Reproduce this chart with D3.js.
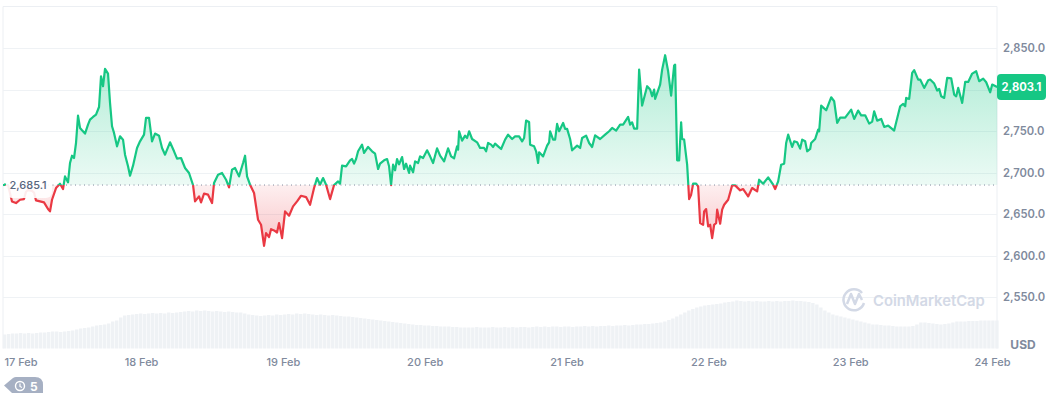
<!DOCTYPE html>
<html><head>
<meta charset="utf-8">
<title>Price chart</title>
<script src="https://d3js.org/d3.v7.min.js"></script>
<style>
  html, body { margin: 0; padding: 0; background: #fff; overflow: hidden; }
  svg { display: block; font-family: Inter, "Noto Sans", sans-serif; }
</style>
</head>
<body>
<div id="chart"></div>
<script>

// feed sample number of each price reading (about 142 samples a day)
var priceSample = [
  4,8,12,16,20,24,26,28,32,34,36,40,44,48,50,52,56,60,63,65,68,70,72,74,76,78,80,82,85,88,90,93,96,99,101,103,105,108,110,112,114,117,
  120,123,125,128,130,133,137,140,144,146,149,152,155,159,162,165,170,174,177,181,185,189,193,195,199,201,204,208,212,214,218,222,226,229,232,235,239,243,245,247,
  250,254,258,261,264,266,269,271,274,277,279,282,285,289,293,297,301,306,310,314,317,320,323,326,330,334,338,340,342,346,
  350,352,354,356,358,362,364,368,372,375,378,380,384,387,389,391,393,395,397,399,402,404,406,409,410,413,415,418,420,423,427,430,433,437,440,444,448,451,454,457,458,459,462,465,467,469,472,477,480,484,486,488,491,493,495,498,501,505,508,512,515,519,522,524,526,529,530,534,536,538,539,543,547,549,550,553,555,557,559,563,565,567,570,572,577,580,582,586,589,592,595,600,605,609,612,616,620,623,628,630,632,634,637,639,642,647,650,652,654,655,660,662,665,668,671,674,675,677,679,681,682,684,687,689,691,693,696,698,
  700,703,704,706,708,710,712,714,716,717,720,722,724,728,732,735,740,743,748,752,757,759,763,768,773,775,778,781,784,786,788,792,794,797,800,802,805,807,810,811,815,818,819,821,826,831,834,837,840,845,851,854,858,861,865,869,872,874,877,881,884,888,894,900,903,905,906,909,912,914,918,920,924,928,930,934,937,939,941,944,947,951,954,956,958,962,965,968,972,976,979,983,986,990,992,997
];

var price = [
  2686,2685,2665.4,2663.4,2667.4,2668.2,2677,2679,2678,2676,2666.6,2665.4,2664.2,2656.2,2653.4,2667.4,2681.5,2686.7,2680.3,2695.5,2688.3,2711.6,2720.4,2717.6,2735.7,2768.6,2753.8,2751,2747,2757.8,2763.8,2767,2769.8,2779,2816,2804,2824.9,2819.2,2783.9,2755.8,2747.8,2731.7,
  2743.7,2739.7,2721.6,2707.6,2696.3,2708.4,2729.7,2737.7,2745.7,2765.8,2765.8,2737.7,2747,2744.5,2729.7,2721.6,2736.5,2725.7,2716.8,2717.6,2705.6,2699.6,2685.1,2665.4,2671.4,2664.2,2674.7,2673.5,2663.4,2687.5,2697.5,2699.6,2691.5,2682.3,2703.6,2705.6,2695.5,2711.6,2720.4,2695.5,
  2685.5,2675.5,2643.3,2637.3,2612,2627.3,2622.5,2632,2630.5,2628,2639.3,2621.2,2653.4,2648.2,2659.4,2665.4,2672.2,2670.6,2661.4,2681.5,2693.5,2685.5,2693.5,2685.5,2668.2,2685.1,2689.5,2686.7,2708.4,2707.6,
  2714.8,2716.4,2710.8,2716.4,2725.7,2733.7,2723.7,2730.9,2725.7,2722.9,2704.4,2710.8,2714.8,2716.4,2707.6,2685.1,2709.6,2702.8,2716.4,2710,2718.8,2704.4,2710.8,2699.6,2708.4,2700.4,2713.6,2711.6,2719.6,2717.6,2726.9,2719.6,2711.6,2729.3,2720.4,2713.6,2729.3,2719.6,2717.2,2731.7,2727.7,2749.8,2738.5,2744.5,2741.7,2749.8,2740.5,2736.5,2729.7,2729.7,2725.7,2735.7,2733.7,2730.9,2734.9,2731.7,2728.5,2739.7,2745.7,2740.5,2743.7,2743.7,2737.7,2741.7,2762.6,2761,2733.7,2731.7,2725.7,2711.6,2724.5,2719.6,2732.5,2736.5,2749.8,2739.7,2739.7,2758.6,2749.8,2759.8,2752.6,2752.6,2740.5,2726.9,2732.5,2729.7,2741.7,2744.5,2735.7,2730.9,2744.9,2740.5,2745.7,2749.8,2753.8,2750.6,2757.8,2757.8,2767,2757.8,2760.6,2753,2753,2824,2780.7,2804,2800,2791.9,2800,2788.7,2806,2824,2841.3,2822,2792.7,2828.9,2830,2714.8,2714.8,2760.6,2740.5,2739.7,2709.6,2668.2,2673.5,2686.7,2686.7,2683.5,
  2639.3,2637.3,2653.4,2656.2,2635.3,2637.3,2621.2,2637.3,2639.3,2655.4,2638.5,2655.4,2661.4,2667.4,2684.7,2684.7,2678.7,2680.3,2671.4,2681.5,2677.5,2691.5,2686.7,2694.3,2685.5,2680.3,2689.5,2709.6,2710.8,2735.7,2745.7,2730.9,2737.7,2736.5,2728.9,2739.7,2737.7,2725.7,2728.5,2735.7,2740.5,2751.8,2749.8,2780.7,2775,2790.7,2785.9,2759.8,2766.2,2766.2,2775.9,2764.6,2774.7,2769,2769,2759,2761.4,2773.9,2762.6,2764.6,2755,2756.6,2750.6,2779.9,2782.7,2779.9,2789.9,2788.7,2820,2823.3,2812,2812,2802,2811.2,2812,2807.2,2798.8,2800.8,2791.9,2789.9,2814,2813.6,2793.9,2791.9,2802,2783.9,2809.2,2809.2,2819.2,2822,2810,2813.2,2808.8,2796.7,2806,2803.1
];

// volume, one bar every 4 samples from sample 3
var volume = [
  14,14.5,15,15,15.5,15,15.5,15,15.5,16,
  16,16.5,17,17,16.5,17,17.5,18,19,20,
  20.5,21,22,23,23.5,24,25,27,28,31,
  33,33.5,34,34.5,35,34.5,35,35.5,35,35.5,
  35,36,35.5,36,36.5,37,37.5,37,38,37.5,
  38,37.5,37,37.5,37,36.5,37,36.5,36,36,
  35,34,33.5,33,32.5,33,33.5,33,34,33.5,
  34,34.5,34,35,34.5,35,34.5,34,33.5,34,
  33.5,33,33.5,33,32.5,32,32,31.5,31,30.5,
  30,29.5,29,28.5,28,27.5,27,26.5,26,25.5,
  25,24.5,24,23.5,23.5,23,23,22.5,22.5,22,
  22,22,21.5,21.5,21,21,21,21,21.5,21,
  21,21,21.5,21,21,21.5,21,21.5,21,21.5,
  21.5,21,21.5,22,21.5,22,21.5,22,22,21.5,
  22,22,21.5,22,22,22.5,22,22.5,22,22.5,
  22.5,23,22.5,23,23,23.5,23,23.5,24,24,
  24.5,24.5,25,25.5,26,27,28.5,30,32,34,
  36,38,39.5,41,42,43,43.5,44,44.5,45,
  46,46.5,47,48,47.5,47,47.5,47,47.5,47,
  47,47.5,47,47.5,47,47.5,47.5,48,47.5,47.5,
  47,46.5,45.5,44,41,38,36,34,33,32,
  31,30,29,28,27,26,25,24,24,23.5,
  23,23,22.5,22,22,22,22,22.5,24,26,
  26,25.5,25,24.5,24,24.5,25,26,27,27,
  27,27.5,27.5,27.5,28,28,28,28,28
];

var dayLabels = ["17 Feb","18 Feb","19 Feb","20 Feb","21 Feb","22 Feb","23 Feb","24 Feb"];
var gridPrices = [2550,2600,2650,2700,2750,2800,2850];
var priceLabels = [2550,2600,2650,2700,2750,2850]; // 2,800.0 sits behind the last price tag
var openPrice = 2685.1;
var lastPrice = 2803.1;
var samplesPerDay = 141.8;

var width = 1052, height = 393;
var plotLeft = 3, plotRight = 997, plotTop = 6.5, plotBottom = 348.5;
var green = "#16c784", red = "#ea3943";

var svg = d3.select("#chart").append("svg")
    .attr("width", width)
    .attr("height", height);

// x runs on days since 17 Feb
var x = d3.scaleLinear().domain([0, 7]).range([-0.8, 992]);
function sampleDay(s) { return (s + 0.8) / samplesPerDay; }

var y = d3.scaleLinear().domain([2550, 2850]).range([297.3, 48]);
var yVol = d3.scaleLinear().domain([0, 60]).range([plotBottom, plotBottom - 60]);

var points = price.map(function(p, i) { return { day: sampleDay(priceSample[i]), price: p }; });
var base = y(openPrice);

// gradients
var defs = svg.append("defs");
var gradUp = defs.append("linearGradient").attr("id", "upFill")
    .attr("gradientUnits", "userSpaceOnUse")
    .attr("x1", 0).attr("x2", 0).attr("y1", y(2841)).attr("y2", base);
gradUp.append("stop").attr("offset", 0).attr("stop-color", green).attr("stop-opacity", 0.34);
gradUp.append("stop").attr("offset", 1).attr("stop-color", green).attr("stop-opacity", 0.08);

var gradDown = defs.append("linearGradient").attr("id", "downFill")
    .attr("gradientUnits", "userSpaceOnUse")
    .attr("x1", 0).attr("x2", 0).attr("y1", base).attr("y2", y(2612));
gradDown.append("stop").attr("offset", 0).attr("stop-color", red).attr("stop-opacity", 0.08);
gradDown.append("stop").attr("offset", 1).attr("stop-color", red).attr("stop-opacity", 0.3);

defs.append("clipPath").attr("id", "above").append("rect")
    .attr("x", 0).attr("y", 0).attr("width", width).attr("height", base);
defs.append("clipPath").attr("id", "below").append("rect")
    .attr("x", 0).attr("y", base).attr("width", width).attr("height", height - base);

// frame
svg.append("path")
    .attr("d", "M" + plotLeft + "," + plotBottom + "V" + plotTop + "H" + plotRight + "V" + plotBottom)
    .attr("fill", "none")
    .attr("stroke", "#eceff3");

// grid
svg.append("g").selectAll("line")
    .data(gridPrices)
    .join("line")
    .attr("x1", plotLeft).attr("x2", plotRight)
    .attr("y1", function(d) { return Math.round(y(d)) + 0.5; })
    .attr("y2", function(d) { return Math.round(y(d)) + 0.5; })
    .attr("stroke", "#eff2f5");

// volume bars
svg.append("g").selectAll("rect")
    .data(volume)
    .join("rect")
    .attr("x", function(d, i) { return x(sampleDay(3 + i * 4)); })
    .attr("y", function(d) { return yVol(d); })
    .attr("width", 3.4)
    .attr("height", function(d) { return yVol(0) - yVol(d); })
    .attr("fill", "#eff2f5");

// watermark
var mark = svg.append("g").attr("fill", "none").attr("stroke", "#d3d9e6");
mark.append("path").attr("stroke-width", 2.5)
    .attr("d", "M862,293 A10.5,10.5 0 1 0 864,303");
mark.append("path").attr("stroke-width", 2.5)
    .attr("stroke-linejoin", "round")
    .attr("d", "M847,304 L851,294 L855,304 L859,294 L862,300");
svg.append("text")
    .attr("x", 873).attr("y", 305.5)
    .attr("font-size", 14.8)
    .attr("font-weight", 600)
    .attr("fill", "#d3d9e6")
    .text("CoinMarketCap");

// area and line, split at the open price
var area = d3.area()
    .x(function(d) { return x(d.day); })
    .y0(base)
    .y1(function(d) { return y(d.price); });
var line = d3.line()
    .x(function(d) { return x(d.day); })
    .y(function(d) { return y(d.price); });

[["above", "url(#upFill)", green], ["below", "url(#downFill)", red]].forEach(function(part) {
  var g = svg.append("g").attr("clip-path", "url(#" + part[0] + ")");
  g.append("path").datum(points).attr("d", area).attr("fill", part[1]);
  g.append("path").datum(points).attr("d", line)
      .attr("fill", "none")
      .attr("stroke", part[2])
      .attr("stroke-width", 2.2)
      .attr("stroke-linejoin", "round");
});

// dotted open price
svg.append("line")
    .attr("x1", plotLeft).attr("x2", plotRight)
    .attr("y1", base).attr("y2", base)
    .attr("stroke", "#808a9d")
    .attr("stroke-width", 1)
    .attr("stroke-dasharray", "1,3.5");

// open price label with its white backing
svg.append("rect")
    .attr("x", 6).attr("y", 176)
    .attr("width", 46).attr("height", 22)
    .attr("rx", 6)
    .attr("fill", "#fff")
    .attr("fill-opacity", 0.9);
svg.append("text")
    .attr("x", 9.5).attr("y", base)
    .attr("dy", "0.35em")
    .attr("font-size", 11)
    .attr("font-weight", 500)
    .attr("fill", "#58667e")
    .text(d3.format(",.1f")(openPrice));

// y axis
var yAxis = d3.axisRight(y)
    .tickValues(priceLabels)
    .tickSize(0)
    .tickPadding(6)
    .tickFormat(d3.format(",.1f"));
var yG = svg.append("g")
    .attr("transform", "translate(" + plotRight + ",0)")
    .call(yAxis);
yG.select(".domain").remove();
yG.selectAll("text")
    .attr("font-family", "Inter, sans-serif")
    .attr("font-size", 11.2)
    .attr("font-weight", 600)
    .attr("fill", "#808a9d");

// x axis
var xAxis = d3.axisBottom(x)
    .tickValues(d3.range(dayLabels.length))
    .tickSize(0)
    .tickPadding(10)
    .tickFormat(function(d) { return dayLabels[d]; });
var xG = svg.append("g")
    .attr("transform", "translate(0," + plotBottom + ")")
    .call(xAxis);
xG.select(".domain").remove();
xG.selectAll("text")
    .attr("font-family", "Inter, sans-serif")
    .attr("font-size", 11)
    .attr("font-weight", 500)
    .attr("fill", "#808a9d");
xG.select(".tick text")
    .attr("text-anchor", "start")
    .attr("x", 4.8);

svg.append("text")
    .attr("x", 1023).attr("y", 349)
    .attr("text-anchor", "middle")
    .attr("font-size", 12)
    .attr("font-weight", 700)
    .attr("fill", "#808a9d")
    .text("USD");

// last price tag
svg.append("rect")
    .attr("x", plotRight).attr("y", y(lastPrice) - 13)
    .attr("width", 49).attr("height", 26)
    .attr("rx", 4)
    .attr("fill", green);
svg.append("text")
    .attr("x", plotRight + 24.5).attr("y", y(lastPrice))
    .attr("dy", "0.35em")
    .attr("text-anchor", "middle")
    .attr("font-size", 11.2)
    .attr("font-weight", 700)
    .attr("fill", "#fff")
    .text(d3.format(",.1f")(lastPrice));

// start marker
svg.append("rect")
    .attr("x", 3).attr("y", base - 1)
    .attr("width", 2).attr("height", 2)
    .attr("fill", green);

// history badge
var badge = svg.append("g");
badge.append("path")
    .attr("d", "M4,385.5 L13,378 Q14.5,377 16,377 L35,377 Q43,377 43,385 L43,393 L12,393 Z")
    .attr("fill", "#a6b0c3");
badge.append("circle").attr("cx", 20).attr("cy", 386).attr("r", 4.5)
    .attr("fill", "none").attr("stroke", "#fff").attr("stroke-width", 1.4);
badge.append("path").attr("d", "M20,383.5 V386.5 L22,387.5")
    .attr("fill", "none").attr("stroke", "#fff").attr("stroke-width", 1.2);
badge.append("text")
    .attr("x", 30).attr("y", 390.5)
    .attr("font-size", 12)
    .attr("font-weight", 700)
    .attr("fill", "#fff")
    .text("5");

</script>
</body></html>
